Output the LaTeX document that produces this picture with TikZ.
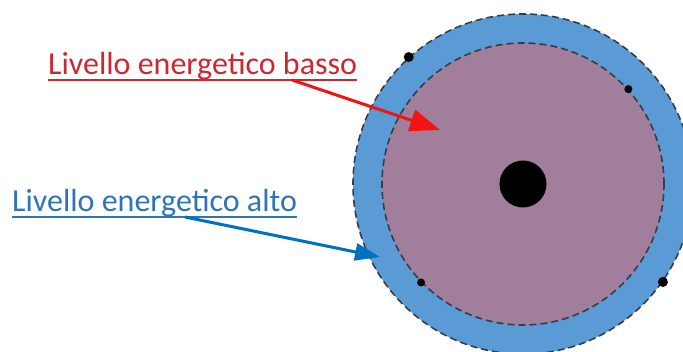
\documentclass[tikz,border=0pt]{standalone}
\usepackage{fontspec}
\setmainfont{Carlito}
\usetikzlibrary{arrows.meta}
\definecolor{ringblue}{RGB}{91,155,213}
\definecolor{corepurple}{RGB}{161,126,155}
\definecolor{dashgray}{RGB}{55,60,72}
\definecolor{bassored}{RGB}{205,40,50}
\definecolor{arrowred}{RGB}{240,20,20}
\definecolor{altoblue}{RGB}{46,117,182}
\definecolor{arrowblue}{RGB}{0,112,192}
\tikzset{
	orbit/.style={circle,draw=dashgray,dash pattern=on 7pt off 4pt,line width=1.6pt,inner sep=0pt},
	electron/.style={circle,fill=black,inner sep=0pt,minimum size=#1},
	livtext/.style={inner sep=0pt,anchor=base west,font=\fontsize{32}{38}\selectfont}
}
\begin{document}
\begin{tikzpicture}[x=1pt,y=-1pt]
		\useasboundingbox (0,0) rectangle (683,352);
		\clip (0,0) rectangle (683,352);
		% orbits and nucleus
		\node[orbit,fill=ringblue,minimum size=340pt] (outer) at (523,184) {};
		\node[orbit,fill=corepurple,minimum size=282pt] (inner) at (523,184) {};
		\node[circle,fill=black,inner sep=0pt,minimum size=47pt] (nucleus) at (523,184) {};
		
		\node[electron=10pt] (e1) at (outer.132) {};
		\node[electron=10pt] (e2) at (outer.-35) {};
		\node[electron=8pt] (e3) at (inner.42) {};
		\node[electron=8pt] (e4) at (inner.224) {};
		
		% labels
		\node[livtext,text=bassored] (basso) at (48,75) {Livello energetico basso};
		\node[livtext,text=altoblue] (alto) at (12,212) {Livello energetico alto};
		\draw[bassored,line width=1.5pt] ([yshift=-5pt]basso.base west)--([yshift=-5pt]basso.base east);
		\draw[altoblue,line width=1.5pt] ([yshift=-5pt]alto.base west)--([yshift=-5pt]alto.base east);
		
		\coordinate (redtip) at (440,130);
		\coordinate (bluetip) at (380,257);
		\draw[arrowred,line width=3pt,-{Triangle[length=30pt,width=22pt]}] ([xshift=244pt,yshift=-5pt]basso.base west)--(redtip);
		\draw[arrowblue,line width=3pt,-{Triangle[length=25pt,width=17pt]}] ([xshift=173pt,yshift=-5pt]alto.base west)--(bluetip);
	\end{tikzpicture}
\end{document}
